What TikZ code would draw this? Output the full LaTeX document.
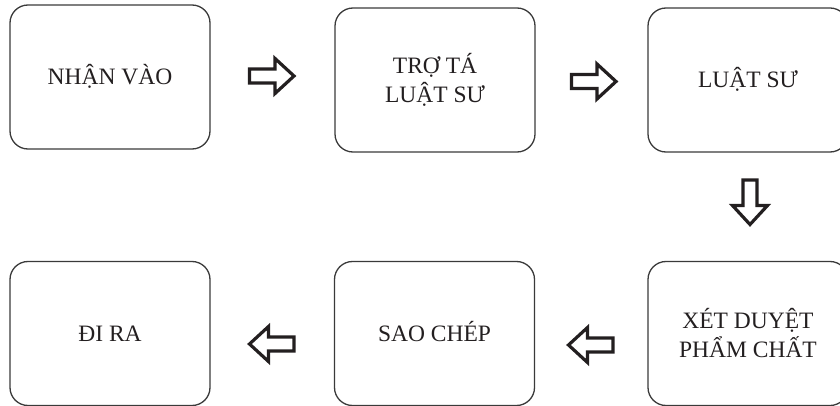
\documentclass[tikz,border=0pt]{standalone}
\usepackage{fontspec}
\setmainfont{Liberation Serif}
\definecolor{boxgray}{HTML}{3A3A3A}
\definecolor{txt}{HTML}{231F20}
\begin{document}
\begin{tikzpicture}[x=1pt,y=-1pt,
  box/.style={draw=boxgray, line width=1.3pt, rounded corners=18pt,
    minimum width=200pt, minimum height=144pt, inner sep=0pt,
    font=\fontsize{23.5}{29}\selectfont, text=txt, align=center},
  one/.style={text height=15.6pt, text depth=0pt},
  arrline/.style={draw=txt, line width=3.2pt, line join=miter, fill=white},
  blockarr/.pic={\path[arrline] (-22.5,-7) -- (3,-7) -- (3,-17.5) -- (22,0)
     -- (3,17.5) -- (3,7) -- (-22.5,7) -- cycle;}]
\useasboundingbox (0,0) rectangle (840,406);
\clip (0,0) rectangle (840,406);
\node[box,one] (n1) at (110,77) {NHẬN VÀO};
\node[box] (n2) at (435,80) {TRỢ TÁ\\LUẬT SƯ};
\node[box,one] (n3) at (748,80) {LUẬT SƯ};
\node[box] (n4) at (748,333.5) {XÉT DUYỆT\\PHẨM CHẤT};
\node[box,one] (n5) at (434.5,333.5) {SAO CHÉP};
\node[box,one] (n6) at (110,333.5) {ĐI RA};
\pic at (272,76) {blockarr};
\pic at (594,81.5) {blockarr};
\pic[rotate=-90] at (750,202.5) {blockarr};
\pic[rotate=180] at (590.5,345) {blockarr};
\pic[rotate=180] at (271.5,344) {blockarr};
\end{tikzpicture}
\end{document}
